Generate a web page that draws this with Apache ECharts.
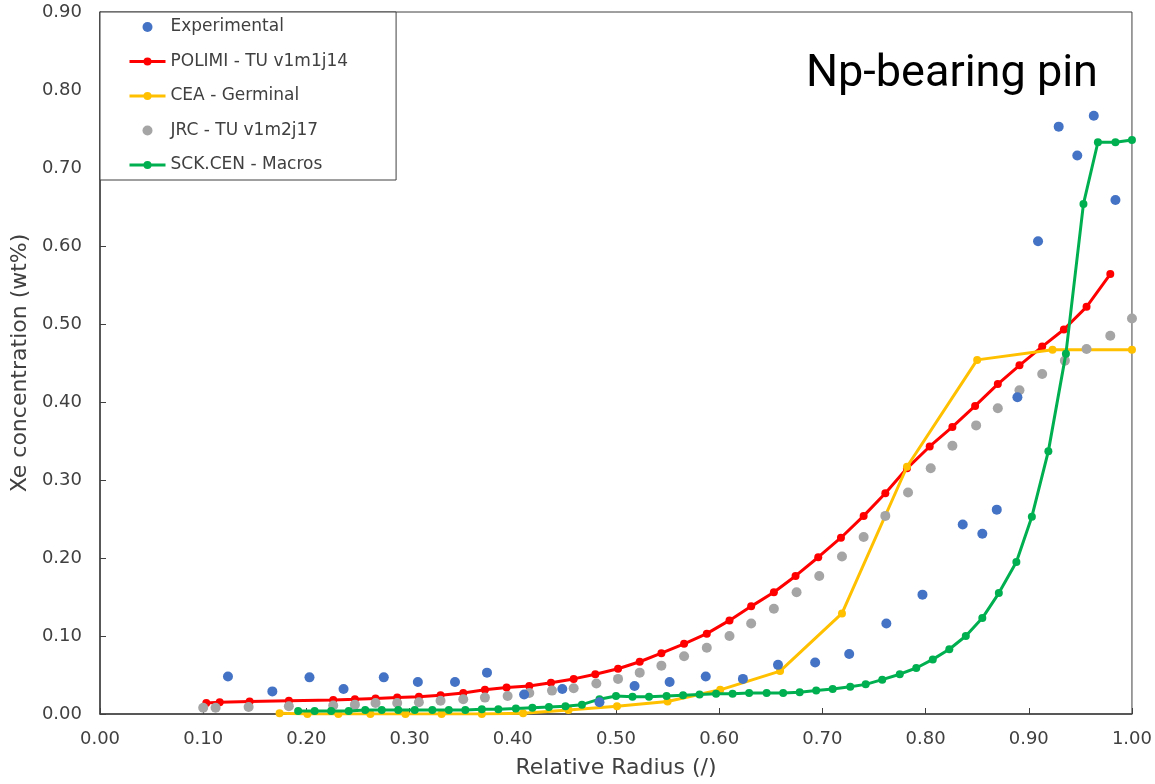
<!DOCTYPE html>
<html lang="en">
<head>
    <meta charset="utf-8">
    <title>Xe concentration - Np-bearing pin</title>
    <script src="https://cdn.jsdelivr.net/npm/echarts@6/dist/echarts.min.js"></script>
    <style>
        html, body { margin: 0; padding: 0; background: #fff; }
        #main { width: 1155px; height: 784px; }
    </style>
</head>
<body>
<div id="main"></div>
<script type="text/javascript">
    // axis ticks
    var xTicks = [0, 0.1, 0.2, 0.3, 0.4, 0.5, 0.6, 0.7, 0.8, 0.9, 1.0];
    var yTicks = [0, 0.1, 0.2, 0.3, 0.4, 0.5, 0.6, 0.7, 0.8, 0.9];

    // Experimental (scatter)
    var expX = [0.124, 0.167, 0.203, 0.236, 0.275, 0.308, 0.344, 0.375, 0.411, 0.448, 0.484, 0.518,
        0.552, 0.587, 0.623, 0.657, 0.693, 0.726, 0.762, 0.797, 0.836, 0.855, 0.869, 0.889,
        0.909, 0.929, 0.947, 0.963, 0.984];
    var expY = [0.048, 0.029, 0.047, 0.032, 0.047, 0.041, 0.041, 0.053, 0.025, 0.032, 0.015, 0.036,
        0.041, 0.048, 0.045, 0.063, 0.066, 0.077, 0.116, 0.153, 0.243, 0.231, 0.262, 0.406,
        0.606, 0.753, 0.716, 0.767, 0.659];

    // POLIMI - TU v1m1j14
    var polX = [0.103, 0.116, 0.145, 0.183, 0.226, 0.247, 0.267, 0.288, 0.309, 0.330, 0.352, 0.373,
        0.394, 0.416, 0.437, 0.459, 0.480, 0.502, 0.523, 0.544, 0.566, 0.588, 0.610, 0.631,
        0.653, 0.674, 0.696, 0.718, 0.740, 0.761, 0.782, 0.804, 0.826, 0.848, 0.870, 0.891,
        0.913, 0.934, 0.956, 0.979];
    var polY = [0.014, 0.015, 0.016, 0.017, 0.018, 0.019, 0.020, 0.021, 0.022, 0.024, 0.027, 0.031,
        0.034, 0.036, 0.040, 0.045, 0.051, 0.058, 0.067, 0.078, 0.090, 0.103, 0.120, 0.138,
        0.156, 0.177, 0.201, 0.226, 0.254, 0.283, 0.315, 0.343, 0.368, 0.395, 0.423, 0.447,
        0.471, 0.493, 0.522, 0.564];

    // CEA - Germinal
    var ceaX = [0.174, 0.201, 0.231, 0.262, 0.296, 0.331, 0.370, 0.410, 0.454, 0.501, 0.550, 0.601,
        0.659, 0.719, 0.782, 0.850, 0.923, 1.000];
    var ceaY = [0.001, 0.000, 0.000, 0.000, 0.000, 0.000, 0.000, 0.001, 0.005, 0.010, 0.016, 0.031,
        0.055, 0.129, 0.317, 0.454, 0.467, 0.467];

    // JRC - TU v1m2j17 (scatter)
    var jrcX = [0.100, 0.112, 0.144, 0.183, 0.226, 0.247, 0.267, 0.288, 0.309, 0.330, 0.352, 0.373,
        0.395, 0.416, 0.438, 0.459, 0.481, 0.502, 0.523, 0.544, 0.566, 0.588, 0.610, 0.631,
        0.653, 0.675, 0.697, 0.719, 0.740, 0.761, 0.783, 0.805, 0.826, 0.849, 0.870, 0.891,
        0.913, 0.935, 0.956, 0.979, 1.000];
    var jrcY = [0.008, 0.008, 0.009, 0.010, 0.011, 0.012, 0.014, 0.014, 0.015, 0.017, 0.019, 0.021,
        0.023, 0.027, 0.030, 0.033, 0.039, 0.045, 0.053, 0.062, 0.074, 0.085, 0.100, 0.116,
        0.135, 0.156, 0.177, 0.202, 0.227, 0.254, 0.284, 0.315, 0.344, 0.370, 0.392, 0.415,
        0.436, 0.453, 0.468, 0.485, 0.507];

    // SCK.CEN - Macros
    var sckX = [0.192, 0.208, 0.224, 0.241, 0.257, 0.273, 0.289, 0.305, 0.322, 0.338, 0.354, 0.370,
        0.386, 0.403, 0.419, 0.435, 0.451, 0.467, 0.484, 0.500, 0.516, 0.532, 0.549, 0.565,
        0.581, 0.597, 0.613, 0.629, 0.646, 0.662, 0.678, 0.694, 0.710, 0.727, 0.742, 0.758,
        0.775, 0.791, 0.807, 0.823, 0.839, 0.855, 0.871, 0.888, 0.903, 0.919, 0.936, 0.953,
        0.967, 0.984, 1.000];
    var sckY = [0.004, 0.004, 0.004, 0.004, 0.005, 0.005, 0.005, 0.005, 0.005, 0.005, 0.005, 0.006,
        0.006, 0.007, 0.008, 0.009, 0.010, 0.012, 0.019, 0.023, 0.022, 0.022, 0.023, 0.024,
        0.025, 0.026, 0.026, 0.027, 0.027, 0.027, 0.028, 0.030, 0.032, 0.035, 0.038, 0.044,
        0.051, 0.059, 0.070, 0.083, 0.100, 0.123, 0.155, 0.195, 0.253, 0.337, 0.462, 0.654,
        0.733, 0.733, 0.736];

    function pairs(xs, ys) {
        return xs.map(function (x, i) { return [x, ys[i]]; });
    }

    var txt = '#404040';
    var font = 'DejaVu Sans';

    var myChart = echarts.init(document.getElementById('main'));

    var option = {
        backgroundColor: '#fff',
        animation: false,
        title: {
            text: 'Np-bearing pin',
            left: 801,
            top: 47,
            textStyle: { fontFamily: 'Roboto', fontSize: 45, fontWeight: 'normal', color: '#000' }
        },
        legend: {
            orient: 'vertical',
            left: 100,
            top: 12,
            padding: [5, 48, 5, 28],
            itemWidth: 36,
            itemHeight: 10,
            itemGap: 14.5,
            backgroundColor: '#fff',
            borderColor: '#404040',
            borderWidth: 1,
            lineStyle: { width: 3 },
            textStyle: { fontFamily: font, fontSize: 17, color: txt, lineHeight: 20 },
            data: ['Experimental', 'POLIMI - TU v1m1j14', 'CEA - Germinal', 'JRC - TU v1m2j17', 'SCK.CEN - Macros']
        },
        grid: {
            left: 100,
            right: 23,
            top: 12,
            bottom: 70,
            show: true,
            borderColor: '#404040',
            borderWidth: 1
        },
        xAxis: {
            type: 'value',
            min: xTicks[0],
            max: xTicks[xTicks.length - 1],
            interval: 0.1,
            name: 'Relative Radius (/)',
            nameLocation: 'middle',
            nameGap: 43,
            nameTextStyle: { fontFamily: font, fontSize: 22, color: txt },
            axisLine: { lineStyle: { color: '#404040', width: 1.5 } },
            axisTick: { inside: true, length: 6, lineStyle: { color: '#404040' } },
            axisLabel: {
                fontFamily: font, fontSize: 18, color: txt, margin: 16,
                formatter: function (v) { return v.toFixed(2); }
            },
            splitLine: { show: false }
        },
        yAxis: {
            type: 'value',
            min: yTicks[0],
            max: yTicks[yTicks.length - 1],
            interval: 0.1,
            name: 'Xe concentration (wt%)',
            nameLocation: 'middle',
            nameGap: 56,
            nameTextStyle: { fontFamily: font, fontSize: 22, color: txt },
            axisLine: { show: true, lineStyle: { color: '#404040', width: 1.5 } },
            axisTick: { show: true, inside: true, length: 6, lineStyle: { color: '#404040' } },
            axisLabel: {
                fontFamily: font, fontSize: 18, color: txt, margin: 18,
                formatter: function (v) { return v.toFixed(2); }
            },
            splitLine: { show: false }
        },
        series: [
            {
                name: 'POLIMI - TU v1m1j14',
                type: 'line',
                data: pairs(polX, polY),
                symbol: 'circle',
                symbolSize: 8,
                itemStyle: { color: '#FF0000' },
                lineStyle: { color: '#FF0000', width: 3 },
                z: 2
            },
            {
                name: 'CEA - Germinal',
                type: 'line',
                data: pairs(ceaX, ceaY),
                symbol: 'circle',
                symbolSize: 8,
                itemStyle: { color: '#FFC000' },
                lineStyle: { color: '#FFC000', width: 3 },
                z: 3
            },
            {
                name: 'JRC - TU v1m2j17',
                type: 'scatter',
                data: pairs(jrcX, jrcY),
                symbolSize: 10,
                itemStyle: { color: '#A5A5A5', opacity: 1 },
                z: 4
            },
            {
                name: 'SCK.CEN - Macros',
                type: 'line',
                data: pairs(sckX, sckY),
                symbol: 'circle',
                symbolSize: 8,
                itemStyle: { color: '#00B050' },
                lineStyle: { color: '#00B050', width: 3 },
                z: 5
            },
            {
                name: 'Experimental',
                type: 'scatter',
                data: pairs(expX, expY),
                symbolSize: 10,
                itemStyle: { color: '#4472C4', opacity: 1 },
                z: 6
            }
        ]
    };

    myChart.setOption(option);
</script>
</body>
</html>
